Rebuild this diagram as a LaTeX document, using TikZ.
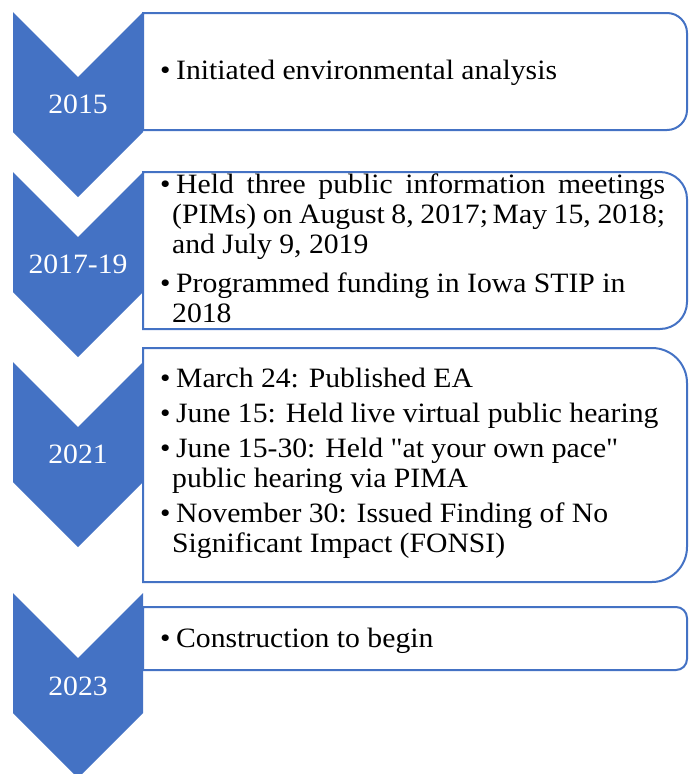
\documentclass[tikz,border=0pt]{standalone}
\usepackage{fontspec}
\setmainfont{Liberation Serif}[FakeStretch=1.06, Ligatures=TeXOff]
\usetikzlibrary{positioning}
\definecolor{stageblue}{HTML}{4472C4}
\newcommand{\bul}{\makebox[16pt][l]{\textbullet}}
\newcommand{\cont}{\hspace*{12pt}}
\tikzset{
  chevron/.style={fill=stageblue},
  stagebox/.style={draw=stageblue, line width=2pt, line cap=rect},
  yearlabel/.style={text=white, anchor=base, font=\fontsize{28}{30}\selectfont},
  bullets/.style={align=left, anchor=base west, inner sep=0pt, font=\fontsize{28}{30}\selectfont}
}

\begin{document}
\begin{tikzpicture}[x=1pt, y=-1pt]
            \useasboundingbox (0,0) rectangle (694,774);

            % boxes, rounded on the right only
            \draw[stagebox, rounded corners=20pt] (143,13) -- (687,13) -- (687,130) -- (143,130) (143,130) -- (143,13);
            \draw[stagebox, rounded corners=27pt] (143,172) -- (687,172) -- (687,329) -- (143,329) (143,329) -- (143,172);
            \draw[stagebox, rounded corners=35pt] (143,348) -- (687,348) -- (687,582) -- (143,582) (143,582) -- (143,348);
            \draw[stagebox, rounded corners=11pt] (143,607) -- (687,607) -- (687,670) -- (143,670) (143,670) -- (143,607);

            % chevrons
            \fill[chevron] (13,12) -- (78,77) -- (143,12) -- (143,132) -- (78,197) -- (13,132) -- cycle;
            \fill[chevron] (13,172) -- (78,237) -- (143,172) -- (143,292) -- (78,357) -- (13,292) -- cycle;
            \fill[chevron] (13,362) -- (78,427) -- (143,362) -- (143,482) -- (78,547) -- (13,482) -- cycle;
            \fill[chevron] (13,593) -- (78,658) -- (143,593) -- (143,713) -- (78,778) -- (13,713) -- cycle;

            \node[yearlabel] (y2015) at (78,113) {2015};
            \node[yearlabel] (y2017) at (78,273) {2017-19};
            \node[yearlabel] (y2021) at (78,463) {2021};
            \node[yearlabel] (y2023) at (78,695) {2023};

            % base of a multi-line node is its last line
            \node[bullets] (t2015) at (160,79) {\bul Initiated environmental analysis};
            \node[bullets] (t2017) at (160,322) {\bul\makebox[489pt][s]{Held three public information meetings} \\
              \cont\makebox[493pt][s]{(PIMs) on August 8, 2017;\,May 15, 2018;} \\
              \cont and July 9, 2019 \\[9pt]
              \bul Programmed funding in Iowa STIP in \\
              \cont 2018};
            \node[bullets] (t2021) at (160,552) {\bul March 24: Published EA \\[5pt]
              \bul June 15: Held live virtual public hearing \\[5pt]
              \bul June 15-30: Held "at your own pace" \\
              \cont public hearing via PIMA \\[5pt]
              \bul November 30: Issued Finding of No \\
              \cont Significant Impact (FONSI)};
            \node[bullets] (t2023) at (160,647) {\bul Construction to begin};
          \end{tikzpicture}
\end{document}
